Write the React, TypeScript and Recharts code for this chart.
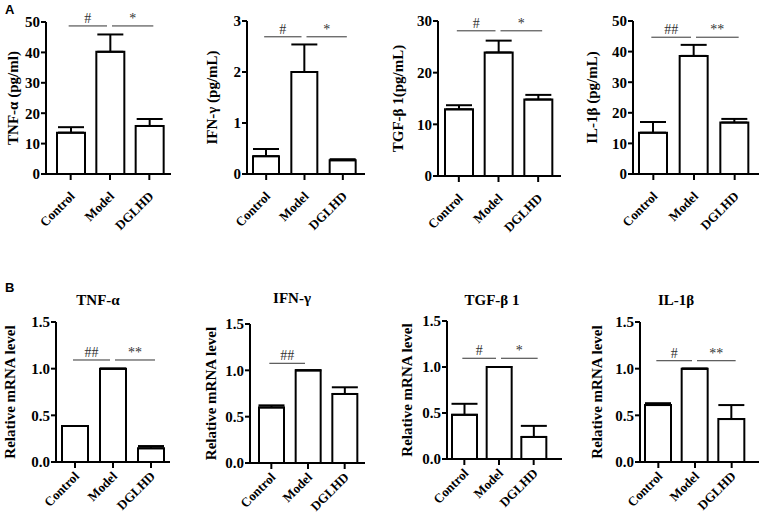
import React from 'react';
import { BarChart, Bar, XAxis, YAxis, ErrorBar, ReferenceLine } from 'recharts';

const groups = ['Control', 'Model', 'DGLHD'];

// A: serum cytokines (ELISA), mean and upper SD
const tnfPgMean = [13.6, 40.2, 15.8];
const tnfPgErr = [1.8, 5.7, 2.3];
const ifnPgMean = [0.35, 2.0, 0.27];
const ifnPgErr = [0.14, 0.54, 0.02];
const tgfPgMean = [12.9, 23.9, 14.8];
const tgfPgErr = [0.8, 2.3, 0.9];
const ilPgMean = [13.5, 38.6, 16.8];
const ilPgErr = [3.5, 3.6, 1.2];

// B: relative mRNA levels
const tnfMrnaMean = [0.386, 1.0, 0.147];
const tnfMrnaErr = [0, 0, 0.024];
const ifnMrnaMean = [0.6, 1.0, 0.745];
const ifnMrnaErr = [0.022, 0, 0.072];
const tgfMrnaMean = [0.48, 1.0, 0.24];
const tgfMrnaErr = [0.12, 0, 0.12];
const ilMrnaMean = [0.61, 1.0, 0.46];
const ilMrnaErr = [0.02, 0, 0.15];

const ticks50 = [0, 10, 20, 30, 40, 50];
const ticks3 = [0, 1, 2, 3];
const ticks30 = [0, 10, 20, 30];
const ticksRel = [0, 0.5, 1.0, 1.5];

// significance brackets: [from, to, height, mark]
const sigTnfPg = [['Control', 'Model', 48.7, '#'], ['Model', 'DGLHD', 48.7, '*']];
const sigIfnPg = [['Control', 'Model', 2.69, '#'], ['Model', 'DGLHD', 2.69, '*']];
const sigTgfPg = [['Control', 'Model', 28.1, '#'], ['Model', 'DGLHD', 28.1, '*']];
const sigIlPg = [['Control', 'Model', 44.7, '##'], ['Model', 'DGLHD', 44.7, '**']];
const sigTnfMrna = [['Control', 'Model', 1.093, '##'], ['Model', 'DGLHD', 1.093, '**']];
const sigIfnMrna = [['Control', 'Model', 1.076, '##']];
const sigTgfMrna = [['Control', 'Model', 1.095, '#'], ['Model', 'DGLHD', 1.095, '*']];
const sigIlMrna = [['Control', 'Model', 1.085, '#'], ['Model', 'DGLHD', 1.085, '**']];

const SERIF = '"Liberation Serif", "Times New Roman", serif';

const SigMark = (props: any) => {
  const { x1, x2, y1, mark, from } = props;
  if (x1 == null || x2 == null) return null;
  const a = from === 'Control' ? x1 - 2 : x1 + 2;
  const b = from === 'Control' ? x2 - 3 : x2 + 4;
  return (
    <g>
      <line x1={a} x2={b} y1={y1} y2={y1} stroke="#333" strokeWidth={1} />
      <text x={(a + b) / 2} y={y1 - 3} textAnchor="middle" fontSize={14} fontFamily={SERIF} fill="#333">
        {mark}
      </text>
    </g>
  );
};

const AngledTick = (props: any) => {
  const { x, y, payload, drop } = props;
  const ax = x + 5;
  const ay = y + drop;
  return (
    <text
      x={ax}
      y={ay}
      transform={`rotate(-45, ${ax}, ${ay})`}
      textAnchor="end"
      fontSize={13}
      fontWeight="bold"
      fontFamily={SERIF}
      fill="#000"
    >
      {payload.value}
    </text>
  );
};

interface PanelProps {
  mean: number[];
  err: number[];
  ticks: number[];
  sig: any[];
  yLabel: string;
  left: number;
  top: number;
  axisX: number;
  topY: number;
  zeroY: number;
  rightX: number;
  labelX: number;
  padL: number;
  padR: number;
  barSize: number;
  drop: number;
  fixed?: boolean;
  title?: string;
  titleX?: number;
  titleY?: number;
}

const Panel: React.FC<PanelProps> = (p) => {
  const data = groups.map((g, i) => ({ name: g, value: p.mean[i], err: [0, p.err[i]] }));
  const xh = 70;
  const W = p.rightX + 1 - p.left;
  const H = p.zeroY - p.top + xh;
  const yW = p.axisX - p.left;
  return (
    <>
      {p.title && (
        <div
          style={{
            position: 'absolute',
            left: (p.titleX ?? 0) - 60,
            top: p.titleY,
            width: 120,
            textAlign: 'center',
            fontFamily: SERIF,
            fontWeight: 'bold',
            fontSize: 15,
            lineHeight: '16px',
          }}
        >
          {p.title}
        </div>
      )}
      <div style={{ position: 'absolute', left: p.left, top: p.top }}>
        <BarChart
          width={W}
          height={H}
          data={data}
          margin={{ top: p.topY - p.top, right: 1, left: 0, bottom: 0 }}
        >
          <XAxis
            dataKey="name"
            height={xh}
            interval={0}
            padding={{ left: p.padL, right: p.padR }}
            axisLine={{ stroke: '#000', strokeWidth: 2 }}
            tickLine={{ stroke: '#000', strokeWidth: 2 }}
            tickSize={6}
            tickMargin={2}
            tick={<AngledTick drop={p.drop} />}
          />
          <YAxis
            width={yW}
            domain={[0, p.ticks[p.ticks.length - 1]]}
            ticks={p.ticks}
            interval={0}
            allowDataOverflow
            axisLine={{ stroke: '#000', strokeWidth: 2 }}
            tickLine={{ stroke: '#000', strokeWidth: 2 }}
            tickSize={5}
            tickMargin={1}
            tickFormatter={(v: number) => (p.fixed ? v.toFixed(1) : String(v))}
            tick={{ fill: '#000', fontSize: 15, fontWeight: 'bold', fontFamily: SERIF }}
            label={{
              value: p.yLabel,
              angle: -90,
              position: 'insideLeft',
              offset: p.labelX - p.left,
              style: { textAnchor: 'middle', fontSize: 15, fontWeight: 'bold', fontFamily: SERIF, fill: '#000' },
            }}
          />
          <Bar dataKey="value" fill="#fff" stroke="#000" strokeWidth={2} barSize={p.barSize} isAnimationActive={false}>
            <ErrorBar dataKey="err" direction="y" width={13} stroke="#000" strokeWidth={2} isAnimationActive={false} />
          </Bar>
          {p.sig.map((s, i) => (
            <ReferenceLine
              key={i}
              segment={[
                { x: s[0], y: s[2] },
                { x: s[1], y: s[2] },
              ]}
              shape={(lp: any) => <SigMark {...lp} mark={s[3]} from={s[0]} />}
            />
          ))}
        </BarChart>
      </div>
    </>
  );
};

const panelLetter: React.CSSProperties = {
  position: 'absolute',
  fontFamily: '"Liberation Sans", Arial, sans-serif',
  fontWeight: 'bold',
  fontSize: 13,
  lineHeight: '13px',
};

export default function App() {
  return (
    <div style={{ position: 'absolute', left: 0, top: 0, width: 760, height: 521, background: '#fff', overflow: 'hidden' }}>
      <div style={{ ...panelLetter, left: 5, top: 3 }}>A</div>
      <div style={{ ...panelLetter, left: 5, top: 281 }}>B</div>

      <Panel mean={tnfPgMean} err={tnfPgErr} ticks={ticks50} sig={sigTnfPg} yLabel="TNF-α (pg/ml)"
        left={0} top={0} axisX={46} topY={22} zeroY={174} rightX={171} labelX={13} padL={5} padR={2} barSize={28} drop={15} />
      <Panel mean={ifnPgMean} err={ifnPgErr} ticks={ticks3} sig={sigIfnPg} yLabel="IFN-γ (pg/mL)"
        left={190} top={0} axisX={247} topY={21} zeroY={174} rightX={365} labelX={212} padL={0} padR={3} barSize={26} drop={15} />
      <Panel mean={tgfPgMean} err={tgfPgErr} ticks={ticks30} sig={sigTgfPg} yLabel="TGF-β 1(pg/mL)"
        left={380} top={0} axisX={438} topY={21} zeroY={176} rightX={561} labelX={398} padL={1} padR={3} barSize={28} drop={15} />
      <Panel mean={ilPgMean} err={ilPgErr} ticks={ticks50} sig={sigIlPg} yLabel="IL-1β  (pg/mL)"
        left={570} top={0} axisX={633} topY={21} zeroY={174} rightX={759} labelX={592} padL={0} padR={4} barSize={28} drop={15} />

      <Panel mean={tnfMrnaMean} err={tnfMrnaErr} ticks={ticksRel} sig={sigTnfMrna} yLabel="Relative mRNA level" fixed
        title="TNF-α" titleX={98} titleY={292}
        left={0} top={270} axisX={56} topY={322} zeroY={462} rightX={170} labelX={10} padL={0} padR={0} barSize={26} drop={7} />
      <Panel mean={ifnMrnaMean} err={ifnMrnaErr} ticks={ticksRel} sig={sigIfnMrna} yLabel="Relative mRNA level" fixed
        title="IFN-γ" titleX={292} titleY={290}
        left={190} top={270} axisX={250} topY={324} zeroY={463} rightX={365} labelX={211} padL={3} padR={2} barSize={25} drop={7} />
      <Panel mean={tgfMrnaMean} err={tgfMrnaErr} ticks={ticksRel} sig={sigTgfMrna} yLabel="Relative mRNA level" fixed
        title="TGF-β 1" titleX={492} titleY={292}
        left={380} top={270} axisX={447} topY={321} zeroY={459} rightX={562} labelX={407} padL={0} padR={11} barSize={25} drop={7} />
      <Panel mean={ilMrnaMean} err={ilMrnaErr} ticks={ticksRel} sig={sigIlMrna} yLabel="Relative mRNA level" fixed
        title="IL-1β" titleX={676} titleY={292}
        left={570} top={270} axisX={640} topY={322} zeroY={462} rightX={759} labelX={597} padL={0} padR={9} barSize={26} drop={7} />
    </div>
  );
}
